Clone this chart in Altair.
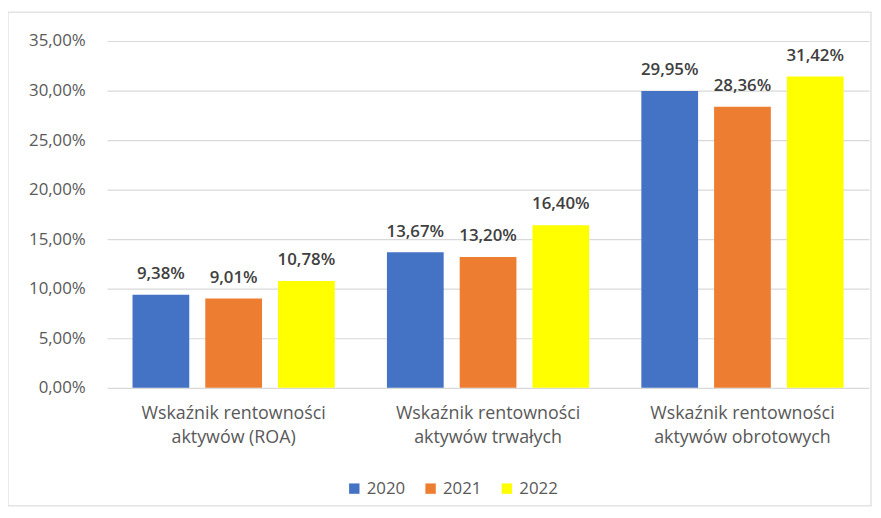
import altair as alt
import pandas as pd

categories = [
    "Wskaźnik rentowności\naktywów (ROA)",
    "Wskaźnik rentowności\naktywów trwałych",
    "Wskaźnik rentowności\naktywów obrotowych",
]
years = ["2020", "2021", "2022"]
v2020 = [9.38, 13.67, 29.95]
v2021 = [9.01, 13.20, 28.36]
v2022 = [10.78, 16.40, 31.42]
colors = ["#4472C4", "#ED7D31", "#FFFF00"]
y_ticks = [0, 5, 10, 15, 20, 25, 30, 35]

rows = []
for i, c in enumerate(categories):
    for yr, vals in zip(years, [v2020, v2021, v2022]):
        rows.append({"kategoria": c, "rok": yr, "wartosc": vals[i]})
df = pd.DataFrame(rows)

FONT = "Open Sans"
GRAY = "#595959"

x = alt.X(
    "kategoria:N",
    sort=categories,
    scale=alt.Scale(paddingInner=0.205, paddingOuter=0.1),
    axis=alt.Axis(
        title=None, labelAngle=0, labelExpr="split(datum.label, '\\n')",
        domain=False, ticks=False, labelPadding=17, labelFontSize=18,
        labelColor=GRAY, labelLineHeight=24, labelFont=FONT, labelLimit=0,
    ),
)
xo = alt.XOffset("rok:N", sort=years, scale=alt.Scale(paddingInner=0.22, paddingOuter=0))
y = alt.Y(
    "wartosc:Q",
    scale=alt.Scale(domain=[0, 35]),
    axis=alt.Axis(
        values=y_ticks, title=None, domain=False, ticks=False,
        labelExpr="replace(format(datum.value, '.2f'), '.', ',') + '%'",
        gridColor="#d9d9d9", gridWidth=1.2, labelPadding=22, labelFontSize=17,
        labelColor=GRAY, labelFont=FONT,
    ),
)

base = alt.Chart(df)
bars = base.mark_bar().encode(
    x=x, xOffset=xo, y=y,
    color=alt.Color(
        "rok:N",
        scale=alt.Scale(domain=years, range=colors),
        legend=alt.Legend(
            title=None, orient="none", legendX=241, legendY=443,
            direction="horizontal", symbolType="square", symbolSize=110,
            labelFontSize=17, labelColor=GRAY, labelFont=FONT,
            columnPadding=17, symbolStrokeWidth=0, symbolOpacity=1,
        ),
    ),
)
labels = base.transform_calculate(
    etykieta="replace(format(datum.wartosc, '.2f'), '.', ',') + '%'"
).mark_text(
    dy=-16, baseline="alphabetic", fontSize=17, fontWeight=600, color="#404040", font=FONT
).encode(x=x, xOffset=xo, y=y, text="etykieta:N")
frame = alt.Chart(pd.DataFrame({"a": [0]})).mark_rect(
    fillOpacity=0, stroke="#e3e3e3", strokeWidth=1.5
).encode(x=alt.value(-100), x2=alt.value(771), y=alt.value(-29), y2=alt.value(469))

chart = alt.layer(frame, bars, labels).properties(
    width=769, height=350,
    autosize=alt.AutoSizeParams(type="none"),
    padding={"left": 100, "top": 31, "right": 4, "bottom": 120},
    background="white",
).configure_view(stroke=None)

chart.save("out.html", embed_options={"renderer": "svg", "actions": False})
